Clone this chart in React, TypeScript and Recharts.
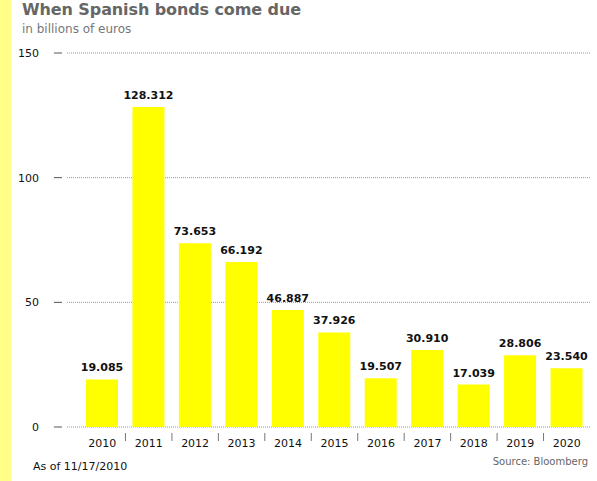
import { BarChart, Bar, XAxis, YAxis, CartesianGrid, LabelList } from "recharts"

const years = ["2010", "2011", "2012", "2013", "2014", "2015", "2016", "2017", "2018", "2019", "2020"]
const dueAmounts = [19.085, 128.312, 73.653, 66.192, 46.887, 37.926, 19.507, 30.91, 17.039, 28.806, 23.54]
const yTicks = [0, 50, 100, 150]

const data = years.map((year, i) => ({ year, amount: dueAmounts[i] }))

const font = "Verdana, 'DejaVu Sans', sans-serif"

// y ticks: label plus a short dash, with a gap before the dotted grid line
function YTick(props: any) {
  const { x, y, payload } = props
  return (
    <g>
      <text x={x - 28} y={y} dy={4} textAnchor="end" fontSize={11} fontFamily={font} fill="#111">
        {payload.value}
      </text>
      <line x1={x - 13} x2={x - 5} y1={y} y2={y} stroke="#555" />
    </g>
  )
}

// x ticks: year label centred, small separator between categories
function XTick(props: any) {
  const { x, y, payload, index } = props
  const half = payload && payload.offset ? payload.offset : 23.2
  return (
    <g>
      <text x={x} y={y + 20} textAnchor="middle" fontSize={11} fontFamily={font} fill="#111">
        {payload.value}
      </text>
      {index > 0 ? <line x1={x - half} x2={x - half} y1={y + 6} y2={y + 14} stroke="#777" /> : null}
    </g>
  )
}

export default function App() {
  return (
    <div style={{ position: "absolute", left: 0, top: 0, width: 597, height: 481, background: "#fff", fontFamily: font }}>
      <div style={{ position: "absolute", left: 0, top: 0, width: 11, height: 481, background: "#ffff88" }} />
      <div style={{ position: "absolute", left: 22, top: 0, fontSize: 16, fontWeight: "bold", color: "#666", whiteSpace: "nowrap", letterSpacing: -0.1 }}>
        When Spanish bonds come due
      </div>
      <div style={{ position: "absolute", left: 22, top: 22, fontSize: 12, color: "#777", whiteSpace: "nowrap" }}>
        in billions of euros
      </div>
      <BarChart
        width={597}
        height={481}
        data={data}
        margin={{ top: 53, right: 7, bottom: 0, left: 0 }}
        barSize={32}
      >
        <CartesianGrid vertical={false} stroke="#999" strokeDasharray="1 1" />
        <XAxis
          dataKey="year"
          axisLine={false}
          tickLine={false}
          tickSize={0}
          tickMargin={0}
          padding={{ left: 12, right: 0 }}
          interval={0}
          tick={<XTick />}
          height={54}
        />
        <YAxis
          domain={[0, 150]}
          ticks={yTicks}
          axisLine={false}
          tickLine={false}
          tickSize={0}
          tickMargin={0}
          width={67}
          tick={<YTick />}
        />
        <Bar dataKey="amount" fill="#ffff00" isAnimationActive={false}>
          <LabelList
            dataKey="amount"
            position="top"
            offset={8}
            formatter={(v: any) => Number(v).toFixed(3)}
            style={{ fontSize: 11, fontWeight: "bold", fontFamily: font, fill: "#111" }}
          />
        </Bar>
      </BarChart>
      <div style={{ position: "absolute", left: 33, top: 460, fontSize: 11, color: "#111", whiteSpace: "nowrap" }}>
        As of 11/17/2010
      </div>
      <div style={{ position: "absolute", right: 9, top: 456, fontSize: 10, color: "#666", whiteSpace: "nowrap" }}>
        Source: Bloomberg
      </div>
    </div>
  )
}
